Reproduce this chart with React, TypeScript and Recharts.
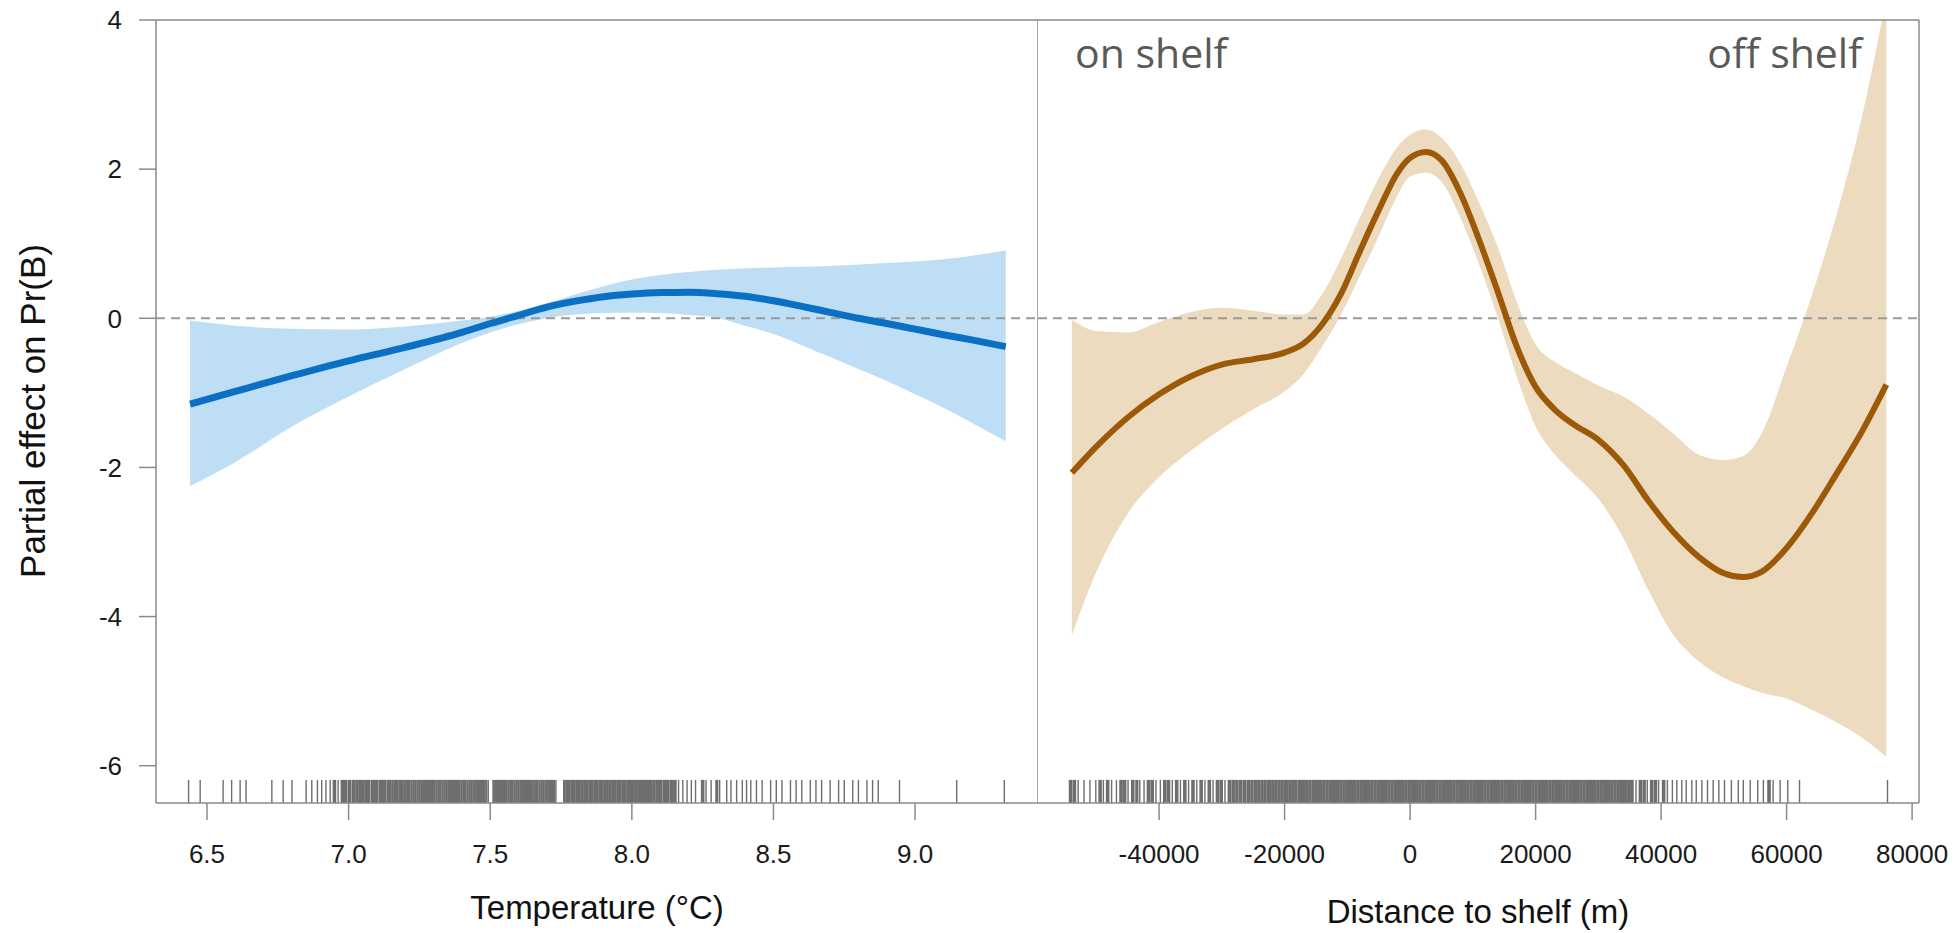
import { ComposedChart, Area, Line, XAxis, YAxis, ReferenceLine } from 'recharts';

// ---- temperature panel ----
const tempX = [6.44, 6.6, 6.8, 7.0, 7.2, 7.4, 7.5, 7.6, 7.7, 7.8, 7.9, 8.0, 8.1, 8.2, 8.3, 8.4, 8.5, 8.6, 8.7, 8.8, 8.9, 9.0, 9.1, 9.2, 9.32];
const tempFit = [-1.15, -0.98, -0.77, -0.57, -0.39, -0.19, -0.07, 0.04, 0.15, 0.23, 0.29, 0.325, 0.345, 0.348, 0.33, 0.295, 0.235, 0.16, 0.08, 0.0, -0.07, -0.145, -0.22, -0.29, -0.38];
const tempLo = [-2.25, -1.93, -1.45, -1.05, -0.68, -0.33, -0.19, -0.08, 0.0, 0.05, 0.07, 0.075, 0.07, 0.045, 0.005, -0.1, -0.21, -0.36, -0.52, -0.68, -0.84, -1.02, -1.2, -1.4, -1.65];
const tempHi = [-0.03, -0.1, -0.14, -0.15, -0.11, -0.03, 0.02, 0.1, 0.2, 0.32, 0.43, 0.52, 0.58, 0.62, 0.65, 0.67, 0.68, 0.69, 0.7, 0.72, 0.74, 0.76, 0.79, 0.84, 0.91];

// ---- distance panel ----
const distX = [-53900, -50000, -45000, -40000, -35000, -30000, -25000, -20000, -17000, -14000, -11000, -8000, -5000, -2000, 0, 2500, 5000, 8000, 11000, 14000, 17000, 20000, 23000, 26000, 30000, 34000, 38000, 42000, 46000, 50000, 53000, 56000, 60000, 64000, 68000, 72000, 75900];
const distFit = [-2.07, -1.72, -1.33, -1.02, -0.78, -0.62, -0.55, -0.46, -0.34, -0.08, 0.33, 0.9, 1.45, 1.95, 2.15, 2.23, 2.12, 1.68, 1.05, 0.35, -0.38, -0.92, -1.22, -1.42, -1.63, -1.97, -2.45, -2.87, -3.2, -3.42, -3.47, -3.4, -3.08, -2.62, -2.08, -1.52, -0.89];
const distLo = [-4.25, -3.4, -2.62, -2.13, -1.78, -1.48, -1.22, -0.98, -0.75, -0.38, 0.05, 0.57, 1.1, 1.65, 1.9, 1.95, 1.83, 1.35, 0.72, 0.0, -0.78, -1.45, -1.82, -2.08, -2.42, -2.95, -3.65, -4.25, -4.6, -4.82, -4.93, -5.02, -5.1, -5.25, -5.42, -5.62, -5.88];
const distHi = [-0.02, -0.17, -0.19, -0.05, 0.08, 0.14, 0.1, 0.05, 0.05, 0.33, 0.8, 1.35, 1.88, 2.3, 2.46, 2.53, 2.42, 2.08, 1.55, 0.95, 0.22, -0.35, -0.58, -0.72, -0.9, -1.05, -1.28, -1.55, -1.83, -1.9, -1.85, -1.55, -0.65, 0.3, 1.4, 2.7, 4.3];

// rug marks (observations)
const tempRug = [6.435, 6.476, 6.557, 6.587, 6.617, 6.638, 6.729, 6.769, 6.8, 6.85, 6.87, 6.89, 6.905, 6.92, 6.935, 6.95, 6.963, 6.978, 6.99, 7.004, 7.018, 7.03, 7.042,
  7.052, 7.061, 7.07, 7.082, 7.09, 7.099, 7.11, 7.118, 7.127, 7.138, 7.146, 7.155, 7.163, 7.172, 7.181, 7.19, 7.199, 7.207, 7.214, 7.222, 7.229, 7.236, 7.244, 7.251,
  7.258, 7.266, 7.273, 7.28, 7.288, 7.295, 7.302, 7.31, 7.317, 7.324, 7.332, 7.339, 7.346, 7.354, 7.361, 7.368, 7.376, 7.383, 7.39, 7.398, 7.405, 7.412, 7.42, 7.427,
  7.434, 7.442, 7.449, 7.456, 7.464, 7.471, 7.478, 7.486, 7.493, 7.512, 7.52, 7.527, 7.534, 7.542, 7.549, 7.556, 7.564, 7.571, 7.578, 7.586, 7.593, 7.6, 7.608, 7.615,
  7.622, 7.63, 7.637, 7.644, 7.652, 7.659, 7.666, 7.674, 7.681, 7.688, 7.696, 7.703, 7.71, 7.718, 7.725, 7.732, 7.762, 7.771, 7.779, 7.788, 7.797, 7.806, 7.815, 7.824,
  7.833, 7.842, 7.851, 7.86, 7.869, 7.878, 7.887, 7.896, 7.905, 7.914, 7.923, 7.932, 7.941, 7.95, 7.959, 7.968, 7.977, 7.986, 7.995, 8.005, 8.014, 8.024, 8.034, 8.045,
  8.055, 8.066, 8.078, 8.09, 8.102, 8.115, 8.127, 8.14, 8.152, 8.165, 8.18, 8.195, 8.21, 8.225, 8.25, 8.262, 8.28, 8.3, 8.31, 8.335, 8.35, 8.37, 8.39, 8.405, 8.42,
  8.44, 8.46, 8.49, 8.51, 8.53, 8.56, 8.58, 8.6, 8.63, 8.65, 8.67, 8.7, 8.73, 8.75, 8.78, 8.8, 8.83, 8.85, 8.87, 8.945, 9.147, 9.315];
const distRug = [-54110, -53500, -52900, -51960, -51030, -50090, -49400, -48880, -48200, -47570, -46800, -46070, -45500, -44950, -44200, -43550, -43080, -42400,
  -41700, -41100, -40500, -39800, -39100, -38500, -37900, -37200, -36600, -35900, -35300, -34600, -34000, -33300, -32700, -32000, -31400, -30700, -30100, -29500,
  -28800, -28200, -27600, -27000, -26400, -25800, -25200, -24600, -24100, -23600, -23150, -22700, -22300, -21800, -21350, -20900, -20450, -20000, -19600, -19100,
  -18650, -18200, -17700, -17300, -16850, -16400, -15950, -15500, -15100, -14600, -14150, -13700, -13250, -12800, -12350, -11900, -11450, -11000, -10550, -10100,
  -9650, -9200, -8750, -8300, -7850, -7400, -6950, -6500, -6050, -5600, -5150, -4700, -4250, -3800, -3350, -2900, -2450, -2000, -1550, -1100, -650, -200, 250, 700,
  1150, 1600, 2050, 2500, 2950, 3400, 3850, 4300, 4750, 5200, 5650, 6100, 6550, 7000, 7450, 7900, 8350, 8800, 9250, 9700, 10150, 10600, 11050, 11500, 11950, 12400,
  12850, 13300, 13750, 14200, 14650, 15100, 15550, 16000, 16450, 16900, 17350, 17800, 18250, 18700, 19150, 19600, 20050, 20500, 20950, 21400, 21850, 22300, 22750,
  23200, 23650, 24100, 24550, 25000, 25450, 25900, 26350, 26800, 27250, 27700, 28150, 28600, 29050, 29500, 29950, 30400, 30850, 31300, 31750, 32200, 32650, 33100,
  33550, 34000, 34450, 34900, 35350, 36000, 36700, 37300, 37800, 38500, 39100, 39600, 40400, 41000, 41800, 42500, 43300, 44000, 44900, 45600, 46500, 47400, 48300,
  49200, 50100, 51200, 52300, 53100, 54200, 55400, 56300, 57200, 57850, 58970, 60190, 62060, 76080];

const yTicks = [-6, -4, -2, 0, 2, 4];
const tempTicks = [6.5, 7, 7.5, 8, 8.5, 9];
const distTicks = [-40000, -20000, 0, 20000, 40000, 60000, 80000];

const TEMP_DOMAIN: [number, number] = [6.32, 9.434];
const DIST_DOMAIN: [number, number] = [-59300, 81100];
const PLOT_W = 881;

const tempData = tempX.map((x, i) => ({ x, fit: tempFit[i], band: [tempLo[i], tempHi[i]] }));
const distData = distX.map((x, i) => ({ x, fit: distFit[i], band: [distLo[i], distHi[i]] }));

// thicker strokes where ticks are packed together, so dense stretches read as a solid block
const rugWidths = (vals: number[], domain: [number, number]) => {
  const k = PLOT_W / (domain[1] - domain[0]);
  return vals.map((v, i) => {
    const gap = i < vals.length - 1 ? (vals[i + 1] - v) * k : 99;
    return gap < 4.2 ? Math.min(gap + 0.3, 3.6) : 1.4;
  });
};
const tempRugW = rugWidths(tempRug, TEMP_DOMAIN);
const distRugW = rugWidths(distRug, DIST_DOMAIN);

const FONT = '"Liberation Sans", Arial, Helvetica, sans-serif';
const GRID = '#8a8a8a';
const RUG = '#6e6e6e';
const tickStyle = { fontFamily: FONT, fontSize: 26, fill: '#1a1a1a' };
const Y_DOMAIN: [number, number] = [-6.5, 4];
const RUG_TOP = -6.19;

const App = () => {
  return (
    <div style={{ position: 'absolute', left: 0, top: 0, width: 1959, height: 933, background: '#fff' }}>
      <div style={{ position: 'absolute', left: 0, top: 0 }}>
        <ComposedChart width={1038} height={933} data={tempData} margin={{ top: 20, right: 0, bottom: 70, left: 0 }}>
          <XAxis dataKey="x" type="number" domain={TEMP_DOMAIN} allowDataOverflow ticks={tempTicks} interval={0}
            tickFormatter={(v: number) => v.toFixed(1)} tickSize={17} tickMargin={25} height={60}
            axisLine={{ stroke: GRID, strokeWidth: 1.5 }} tickLine={{ stroke: GRID, strokeWidth: 1.5 }} tick={tickStyle} />
          <YAxis type="number" domain={Y_DOMAIN} allowDataOverflow ticks={yTicks} interval={0} width={156} tickSize={17} tickMargin={17}
            axisLine={{ stroke: GRID, strokeWidth: 1.5 }} tickLine={{ stroke: GRID, strokeWidth: 1.5 }} tick={tickStyle} />
          <Area dataKey="band" type="monotone" fill="#bedef6" fillOpacity={1} stroke="none" isAnimationActive={false} />
          <ReferenceLine y={0} stroke="#9a9a9a" strokeWidth={2} strokeDasharray="9 6" />
          <Line dataKey="fit" type="monotone" stroke="#0b70c4" strokeWidth={7} dot={false} isAnimationActive={false} />
          <ReferenceLine y={4} stroke={GRID} strokeWidth={1.5} ifOverflow="visible" />
          <ReferenceLine x={TEMP_DOMAIN[1]} stroke={GRID} strokeWidth={1.5} ifOverflow="visible" />
          {tempRug.map((v, i) => (
            <ReferenceLine key={'tr' + i} segment={[{ x: v, y: Y_DOMAIN[0] }, { x: v, y: RUG_TOP }]} stroke={RUG} strokeWidth={tempRugW[i]} ifOverflow="visible" />
          ))}
        </ComposedChart>
      </div>
      <div style={{ position: 'absolute', left: 1038, top: 0 }}>
        <ComposedChart width={921} height={933} data={distData} margin={{ top: 20, right: 40, bottom: 70, left: 0 }}>
          <XAxis dataKey="x" type="number" domain={DIST_DOMAIN} allowDataOverflow ticks={distTicks} interval={0}
            tickSize={17} tickMargin={25} height={60}
            axisLine={{ stroke: GRID, strokeWidth: 1.5 }} tickLine={{ stroke: GRID, strokeWidth: 1.5 }} tick={tickStyle} />
          <YAxis hide type="number" domain={Y_DOMAIN} allowDataOverflow ticks={yTicks} />
          <Area dataKey="band" type="monotone" fill="#ecdbbe" fillOpacity={1} stroke="none" isAnimationActive={false} />
          <ReferenceLine y={0} stroke="#9a9a9a" strokeWidth={2} strokeDasharray="9 6" />
          <Line dataKey="fit" type="monotone" stroke="#9c5a08" strokeWidth={6} dot={false} isAnimationActive={false} />
          <ReferenceLine y={4} stroke={GRID} strokeWidth={1.5} ifOverflow="visible" />
          <ReferenceLine x={DIST_DOMAIN[1]} stroke={GRID} strokeWidth={1.5} ifOverflow="visible" />
          {distRug.map((v, i) => (
            <ReferenceLine key={'dr' + i} segment={[{ x: v, y: Y_DOMAIN[0] }, { x: v, y: RUG_TOP }]} stroke={RUG} strokeWidth={distRugW[i]} ifOverflow="visible" />
          ))}
        </ComposedChart>
      </div>
      <svg width={1959} height={933} style={{ position: 'absolute', left: 0, top: 0, pointerEvents: 'none' }}>
        <text x={597} y={919} textAnchor="middle" fontFamily={FONT} fontSize={33} fill="#111">Temperature (°C)</text>
        <text x={1478} y={923} textAnchor="middle" fontFamily={FONT} fontSize={33} fill="#111">Distance to shelf (m)</text>
        <text transform="translate(45,411) rotate(-90)" textAnchor="middle" fontFamily={FONT} fontSize={35} fill="#111">Partial effect on Pr(B)</text>
        <text x={1075} y={68} fontFamily='"Open Sans", sans-serif' fontSize={41} fill="#595959">on shelf</text>
        <text x={1862} y={68} textAnchor="end" fontFamily='"Open Sans", sans-serif' fontSize={41} fill="#595959">off shelf</text>
      </svg>
    </div>
  );
};

export default App;
